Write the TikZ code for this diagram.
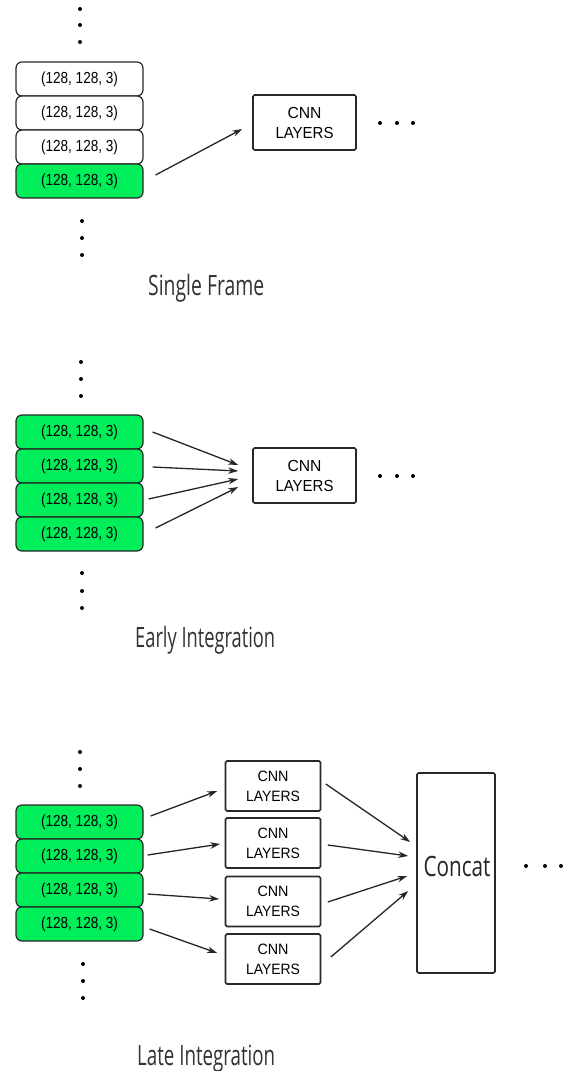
\documentclass[tikz,border=0pt]{standalone}
\usepackage{fontspec}
\setmainfont{Liberation Sans}
\newfontfamily\lblfont{Open Sans}
\usetikzlibrary{arrows.meta,calc}
\definecolor{boxgreen}{RGB}{0,238,90}
\definecolor{edgec}{RGB}{40,40,40}
\newcommand\shapetxt{\resizebox{77pt}{\height}{(128, 128, 3)}}
\newcommand\cnntxt{\resizebox{34pt}{\height}{CNN}\\\resizebox{58pt}{\height}{LAYERS}}
\newcommand\cnntxts{\resizebox{31pt}{\height}{CNN}\\\resizebox{54pt}{\height}{LAYERS}}
\begin{document}
\begin{tikzpicture}[x=1pt,y=-1pt,
 frame/.style={draw=edgec, line width=1.2pt, rounded corners=6pt, minimum width=127pt, minimum height=34pt, inner sep=0pt, font=\fontsize{16}{16}\selectfont},
 gframe/.style={frame, fill=boxgreen},
 wframe/.style={frame, fill=white},
 cnn/.style={draw=edgec, line width=1.6pt, rounded corners=1.5pt, minimum width=103pt, minimum height=55pt, inner sep=0pt, align=center, font=\fontsize{16}{20}\selectfont},
 cnns/.style={cnn, minimum width=95pt, minimum height=50pt, font=\fontsize{15}{20}\selectfont},
 arr/.style={-{Stealth[length=10pt,width=6.5pt]}, line width=1.3pt, draw=black!85},
 lbl/.style={anchor=base west, inner sep=0pt, font=\lblfont\fontsize{28}{28}\selectfont, text=black!80}
]
\useasboundingbox (0,0) rectangle (573,1071);
\fill[white] (0,0) rectangle (573,1071);

% ---------- Single Frame ----------
\foreach \y in {9,25,42} \fill (80,\y) circle (2pt);
\foreach \y in {221,238,255} \fill (82,\y) circle (2pt);
\node[wframe] (s1) at (79.5,79) {\shapetxt};
\node[wframe] (s2) at (79.5,113) {\shapetxt};
\node[wframe] (s3) at (79.5,147) {\shapetxt};
\node[gframe] (s4) at (79.5,181) {\shapetxt};
\node[cnn] (sc) at (304.5,122.5) {\cnntxt};
\foreach \x in {380,397,413} \fill (\x,123) circle (2pt);
\draw[arr] ($(s4.east)+(12,-6)$) -- ($(sc.west)+(-10,6.5)$);
\node[lbl] (slbl) at (148,295) {\resizebox{116pt}{\height}{Single Frame}};

% ---------- Early Integration ----------
\foreach \y in {362,379,396} \fill (81,\y) circle (2pt);
\foreach \y in {573,591,608} \fill (82,\y) circle (2pt);
\node[gframe] (e1) at (79.5,432) {\shapetxt};
\node[gframe] (e2) at (79.5,466) {\shapetxt};
\node[gframe] (e3) at (79.5,500) {\shapetxt};
\node[gframe] (e4) at (79.5,534) {\shapetxt};
\node[cnn] (ec) at (304.5,475.5) {\cnntxt};
\foreach \x in {380,397,413} \fill (\x,476) circle (2pt);
\draw[arr] ($(e1.east)+(9,0)$) -- ($(ec.west)+(-14,-10.5)$);
\draw[arr] ($(e2.east)+(9,1)$) -- ($(ec.west)+(-14,-4.5)$);
\draw[arr] ($(e3.east)+(5,-1)$) -- ($(ec.west)+(-14,3.5)$);
\draw[arr] ($(e4.east)+(12,-6)$) -- ($(ec.west)+(-14,11.5)$);
\node[lbl] (elbl) at (135,647) {\resizebox{140pt}{\height}{Early Integration}};

% ---------- Late Integration ----------
\foreach \y in {752,769,786} \fill (80,\y) circle (2pt);
\foreach \y in {964,981,998} \fill (83,\y) circle (2pt);
\node[gframe] (l1) at (79.5,822) {\shapetxt};
\node[gframe] (l2) at (79.5,856) {\shapetxt};
\node[gframe] (l3) at (79.5,890) {\shapetxt};
\node[gframe] (l4) at (79.5,924) {\shapetxt};
\node[cnns] (c1) at (273,786) {\cnntxts};
\node[cnns] (c2) at (273,843) {\cnntxts};
\node[cnns] (c3) at (273,901.5) {\cnntxts};
\node[cnns] (c4) at (273,959) {\cnntxts};
\node[draw=edgec, line width=1.6pt, rounded corners=1.5pt, minimum width=78pt, minimum height=200pt, inner sep=0pt] (cc) at (456,873) {};
\node[inner sep=0pt, font=\lblfont\fontsize{28}{28}\selectfont, text=black!85] (cctxt) at (457,866) {\resizebox{67pt}{\height}{Concat}};
\foreach \x in {526,545,561} \fill (\x,866) circle (2pt);
\draw[arr] ($(l1.east)+(7,-6)$) -- ($(c1.west)+(-7.5,5)$);
\draw[arr] ($(l2.east)+(4,-1)$) -- ($(c2.west)+(-4.5,1)$);
\draw[arr] ($(l3.east)+(4,4)$) -- ($(c3.west)+(-5.5,-2.5)$);
\draw[arr] ($(l4.east)+(6,5)$) -- ($(c4.west)+(-7.5,-6)$);
\draw[arr] ($(c1.east)+(4.5,-2)$) -- ($(cc.west)+(-6,-31)$);
\draw[arr] ($(c2.east)+(6.5,2)$) -- ($(cc.west)+(-8,-17)$);
\draw[arr] ($(c3.east)+(6.5,0.5)$) -- ($(cc.west)+(-9,3)$);
\draw[arr] ($(c4.east)+(9.5,-2)$) -- ($(cc.west)+(-8,18)$);
\node[lbl] (llbl) at (137,1065) {\resizebox{138pt}{\height}{Late Integration}};
\end{tikzpicture}
\end{document}
